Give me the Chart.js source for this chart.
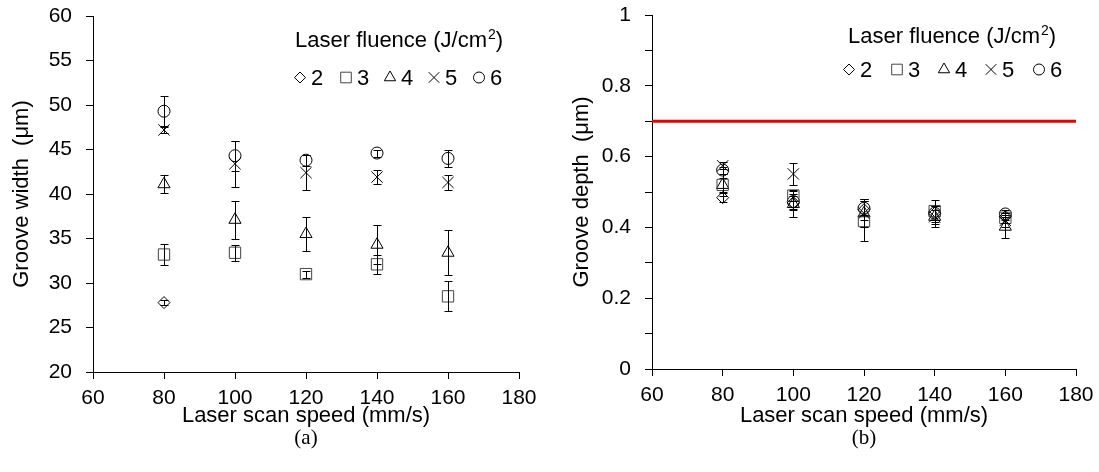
<!DOCTYPE html>
<html>
<head>
<meta charset="utf-8">
<script src="https://cdn.jsdelivr.net/npm/chart.js@4.4.0/dist/chart.umd.min.js"></script>
<style>
  html, body { margin: 0; padding: 0; background: #fff; }
  #wrap { position: relative; width: 1099px; height: 472px; overflow: hidden; }
  canvas { position: absolute; top: 0; }
  #chartA { left: 0; }
  #chartB { left: 555px; }
  .caption {
    position: absolute; top: 425px;
    font-family: "Liberation Serif", "Times New Roman", serif;
    font-size: 21px; color: #000; transform: translateX(-50%);
  }
</style>
</head>
<body>
<div id="wrap">
  <canvas id="chartA" width="555" height="472"></canvas>
  <canvas id="chartB" width="544" height="472"></canvas>
  <div class="caption" style="left:306px">(a)</div>
  <div class="caption" style="left:864px">(b)</div>
</div>
<script>
// scan speeds (mm/s) and fluence levels (J/cm2)
const scanSpeed = [80, 100, 120, 140, 160];
const fluence = ['2', '3', '4', '5', '6'];

// (a) groove width (um), mean and error
const widthF2 = [27.8, null, null, null, null];
const widthF2Err = [0.3, 0, 0, 0, 0];
const widthF3 = [33.2, 33.4, 31.0, 32.1, 28.5];
const widthF3Err = [1.2, 0.9, 0.4, 1.1, 1.7];
const widthF4 = [41.1, 37.1, 35.5, 34.3, 33.4];
const widthF4Err = [1.0, 2.1, 1.9, 2.2, 2.5];
const widthF5 = [47.2, 43.4, 42.4, 41.9, 41.3];
const widthF5Err = [0.3, 2.6, 2.0, 0.8, 0.85];
const widthF6 = [49.3, 44.3, 43.8, 44.6, 44.0];
const widthF6Err = [1.7, 1.7, 0.6, 0.4, 1.0];

// (b) groove depth (um), mean and error
const depthF2 = [0.484, 0.47, 0.45, 0.44, 0.43];
const depthF2Err = [0.013, 0.02, 0.03, 0.02, 0.01];
const depthF3 = [0.52, 0.49, 0.418, 0.446, 0.427];
const depthF3Err = [0.02, 0.015, 0.056, 0.03, 0.015];
const depthF4 = [0.52, 0.466, 0.44, 0.43, 0.402];
const depthF4Err = [0.03, 0.038, 0.04, 0.03, 0.033];
const depthF5 = [0.574, 0.551, 0.44, 0.43, 0.42];
const depthF5Err = [0.01, 0.03, 0.04, 0.02, 0.02];
const depthF6 = [0.562, 0.473, 0.454, 0.44, 0.438];
const depthF6Err = [0.01, 0.02, 0.02, 0.02, 0.01];

// red reference line in (b)
const depthLimit = 0.7;
const speedRange = [60, 180];

const FONT = '"Liberation Sans", Arial, sans-serif';
Chart.defaults.font.family = FONT;
Chart.defaults.color = '#000';

const markers = [
  { pointStyle: 'rectRot', radius: 6, color: '#000' },
  { pointStyle: 'rect', radius: 8, color: '#444' },
  { pointStyle: 'triangle', radius: 7, color: '#000' },
  { pointStyle: 'crossRot', radius: 8, color: '#000' },
  { pointStyle: 'circle', radius: 6, color: '#000' }
];

function makeSeries(values, errors, k) {
  const pts = [], errs = [];
  scanSpeed.forEach((x, i) => {
    if (values[i] == null) return;
    pts.push({ x: x, y: values[i] });
    errs.push(errors[i]);
  });
  const m = markers[k];
  return {
    label: fluence[k],
    data: pts,
    errors: errs,
    showLine: false,
    pointStyle: m.pointStyle,
    pointRadius: m.radius,
    pointHoverRadius: m.radius,
    borderColor: m.color,
    backgroundColor: 'rgba(0,0,0,0)',
    borderWidth: 1
  };
}

// vertical error bars with caps
const errorBars = {
  id: 'errorBars',
  afterDatasetsDraw(chart) {
    const ctx = chart.ctx;
    const xs = chart.scales.x, ys = chart.scales.y;
    ctx.save();
    ctx.strokeStyle = '#000';
    ctx.lineWidth = 1;
    chart.data.datasets.forEach(ds => {
      if (!ds.errors) return;
      ds.data.forEach((p, j) => {
        const e = ds.errors[j];
        if (!e) return;
        const px = Math.round(xs.getPixelForValue(p.x)) + 0.5;
        const top = Math.round(ys.getPixelForValue(p.y + e)) + 0.5;
        const bot = Math.round(ys.getPixelForValue(p.y - e)) + 0.5;
        ctx.beginPath();
        ctx.moveTo(px, top); ctx.lineTo(px, bot);
        ctx.moveTo(px - 4, top); ctx.lineTo(px + 4, top);
        ctx.moveTo(px - 4, bot); ctx.lineTo(px + 4, bot);
        ctx.stroke();
      });
    });
    ctx.restore();
  }
};

// legend drawn inside the plot, top right
const fluenceLegend = {
  id: 'fluenceLegend',
  afterDraw(chart, args, opts) {
    const ctx = chart.ctx;
    ctx.save();
    ctx.fillStyle = '#000';
    ctx.textBaseline = 'alphabetic';
    ctx.textAlign = 'left';
    ctx.font = '22px ' + FONT;
    let tx = opts.titleX;
    const main = 'Laser fluence (J/cm';
    ctx.fillText(main, tx, opts.titleY);
    tx += ctx.measureText(main).width;
    ctx.font = '14px ' + FONT;
    ctx.fillText('2', tx + 1, opts.titleY - 8);
    tx += ctx.measureText('2').width + 1;
    ctx.font = '22px ' + FONT;
    ctx.fillText(')', tx, opts.titleY);

    ctx.font = '22px ' + FONT;
    fluence.forEach((lab, k) => {
      const m = markers[k];
      const mx = opts.markerX[k];
      ctx.strokeStyle = m.color;
      ctx.fillStyle = 'rgba(0,0,0,0)';
      ctx.lineWidth = 1;
      Chart.helpers.drawPoint(ctx, {
        pointStyle: m.pointStyle, radius: m.radius - 0.5, rotation: 0, borderWidth: 1
      }, mx, opts.rowY - 7.5);
      ctx.fillStyle = '#000';
      ctx.fillText(lab, mx + 11, opts.rowY);
    });
    ctx.restore();
  }
};

function axes(yMin, yMax, yStep, yTitle, yWidth, yTitlePad, xHeight, yTickFmt) {
  return {
    x: {
      type: 'linear', min: speedRange[0], max: speedRange[1],
      ticks: { stepSize: 20, padding: 7, font: { size: 21 }, color: '#000' },
      grid: { drawOnChartArea: false, drawTicks: true, tickLength: 7, color: '#000' },
      border: { color: '#000', width: 1 },
      title: { display: true, text: 'Laser scan speed (mm/s)', font: { size: 22 }, color: '#000',
               padding: { top: 0, bottom: 43 } },
      afterFit(s) { s.height = xHeight; s.paddingLeft = 0; s.paddingRight = 0; }
    },
    y: {
      type: 'linear', min: yMin, max: yMax,
      ticks: { stepSize: yStep, padding: 14, font: { size: 21 }, color: '#000', callback: yTickFmt },
      grid: { drawOnChartArea: false, drawTicks: true, tickLength: 7, color: '#000' },
      border: { color: '#000', width: 1 },
      title: { display: true, text: yTitle, font: { size: 22 }, color: '#000',
               padding: { top: yTitlePad, bottom: 0 } },
      afterFit(s) { s.width = yWidth; s.paddingTop = 0; s.paddingBottom = 0; }
    }
  };
}

new Chart(document.getElementById('chartA'), {
  type: 'scatter',
  data: {
    datasets: [
      makeSeries(widthF2, widthF2Err, 0),
      makeSeries(widthF3, widthF3Err, 1),
      makeSeries(widthF4, widthF4Err, 2),
      makeSeries(widthF5, widthF5Err, 3),
      makeSeries(widthF6, widthF6Err, 4)
    ]
  },
  options: {
    responsive: false,
    animation: false,
    layout: { padding: { left: 0, right: 36, top: 16, bottom: 0 } },
    scales: axes(20, 60, 5, 'Groove width  (\u03bcm)', 93, 9, 100, v => v),
    plugins: {
      legend: { display: false },
      tooltip: { enabled: false },
      fluenceLegend: { titleX: 295, titleY: 47, rowY: 85, markerX: [300, 346, 390, 434, 479] }
    }
  },
  plugins: [errorBars, fluenceLegend]
});

new Chart(document.getElementById('chartB'), {
  type: 'scatter',
  data: {
    datasets: [
      {
        type: 'line',
        data: [{ x: speedRange[0], y: depthLimit }, { x: speedRange[1], y: depthLimit }],
        borderColor: '#e60000', borderWidth: 3, pointRadius: 0, fill: false
      },
      makeSeries(depthF2, depthF2Err, 0),
      makeSeries(depthF3, depthF3Err, 1),
      makeSeries(depthF4, depthF4Err, 2),
      makeSeries(depthF5, depthF5Err, 3),
      makeSeries(depthF6, depthF6Err, 4)
    ]
  },
  options: {
    responsive: false,
    animation: false,
    layout: { padding: { left: 0, right: 23, top: 15, bottom: 0 } },
    scales: axes(0, 1, 0.1, 'Groove depth  (\u03bcm)', 97, 14, 103,
      v => (Math.round(v * 10) % 2 === 0 ? String(Math.round(v * 10) / 10) : '')),
    plugins: {
      legend: { display: false },
      tooltip: { enabled: false },
      fluenceLegend: { titleX: 293, titleY: 43, rowY: 77, markerX: [294, 342, 389, 436, 484] }
    }
  },
  plugins: [errorBars, fluenceLegend]
});
</script>
</body>
</html>
